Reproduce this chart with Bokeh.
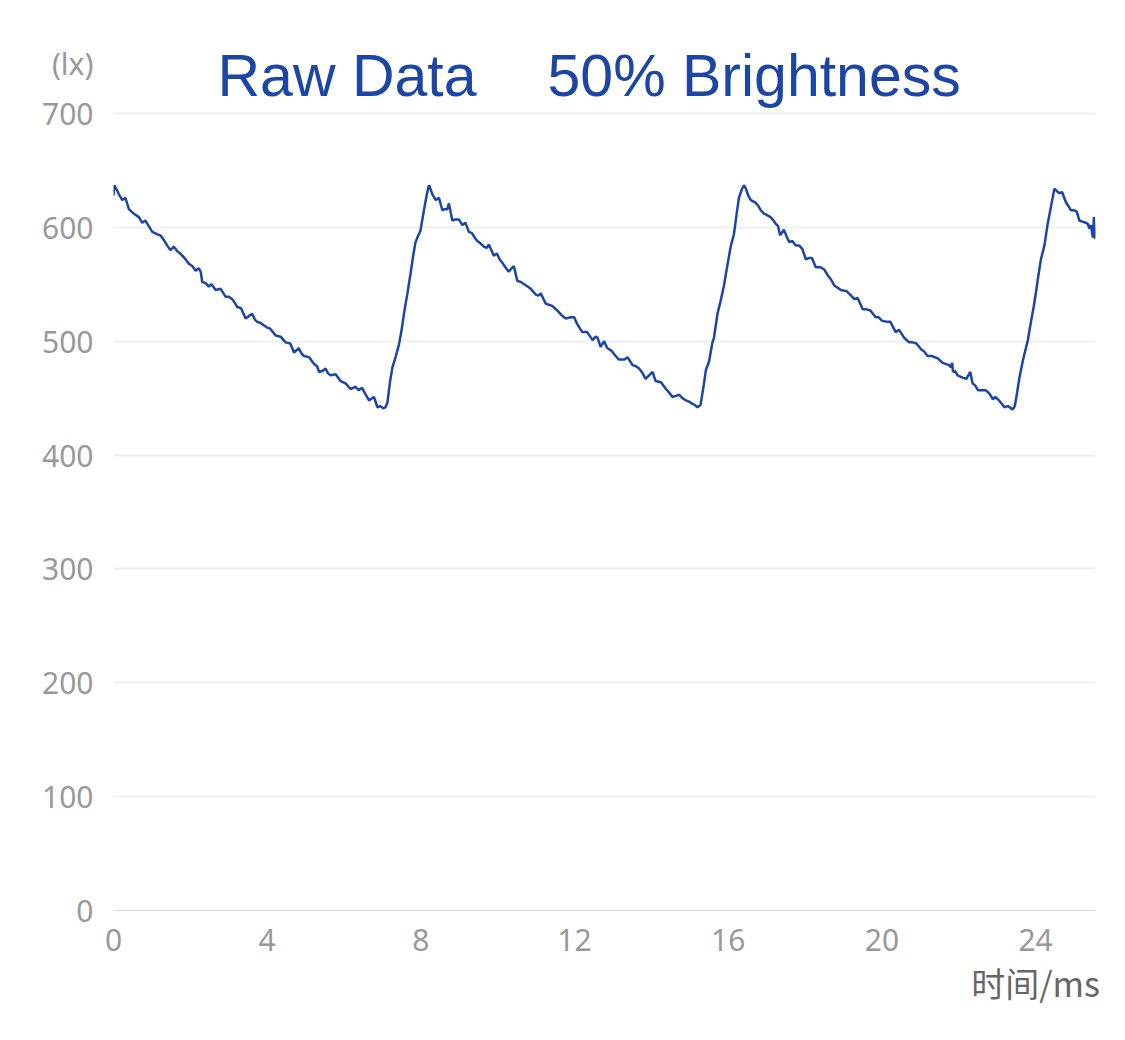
from bokeh.plotting import figure
from bokeh.models import Range1d, FixedTicker, Label, LinearAxis
from bokeh.embed import file_html
from bokeh.resources import INLINE

# ---- data (time in ms, illuminance in lx) ----
time_ms = [
    0.00, 0.02, 0.10, 0.14, 0.23, 0.31, 0.40, 0.53, 0.66, 0.75, 0.83, 1.01, 1.13, 1.22, 1.31, 1.40,
    1.48, 1.57, 1.66, 1.74, 1.85, 1.96, 2.05, 2.14, 2.22, 2.27, 2.31, 2.40, 2.48, 2.55, 2.66, 2.79,
    2.92, 3.00, 3.09, 3.17, 3.22, 3.32, 3.44, 3.52, 3.61, 3.68, 3.74, 3.83, 3.91, 4.00, 4.08, 4.15,
    4.22, 4.35, 4.48, 4.60, 4.70, 4.82, 4.90, 4.96, 5.09, 5.22, 5.30, 5.35, 5.45, 5.52, 5.58, 5.65,
    5.78, 5.91, 6.04, 6.17, 6.30, 6.38, 6.47, 6.55, 6.65, 6.73, 6.78, 6.87, 6.95, 7.02, 7.08, 7.13,
    7.20, 7.26, 7.35, 7.43, 7.50, 7.56, 7.65, 7.73, 7.80, 7.86, 7.92, 7.99, 8.08, 8.15, 8.21,
    8.26, 8.30, 8.39, 8.47, 8.56, 8.62, 8.69, 8.73, 8.82, 8.90, 8.99, 9.08, 9.16, 9.25, 9.33, 9.40,
    9.47, 9.55, 9.64, 9.72, 9.77, 9.90, 9.98, 10.05, 10.12, 10.20, 10.29, 10.36, 10.42, 10.51, 10.60,
    10.69, 10.78, 10.86, 10.99, 11.06, 11.12, 11.25, 11.33, 11.42, 11.55, 11.66, 11.77, 11.90, 11.99,
    12.07, 12.20, 12.33, 12.47, 12.55, 12.60, 12.68, 12.77, 12.85, 12.95, 13.07, 13.15, 13.30, 13.38,
    13.51, 13.60, 13.68, 13.77, 13.85, 13.94, 14.03, 14.11, 14.25, 14.38, 14.46, 14.55, 14.64, 14.72,
    14.81, 14.90, 14.98, 15.07, 15.13, 15.20, 15.28,
    15.37, 15.42, 15.50, 15.59, 15.63, 15.72, 15.80, 15.89, 15.98, 16.07, 16.15, 16.22, 16.28, 16.35, 16.41,
    16.46, 16.52, 16.59, 16.70, 16.78, 16.85, 16.93, 17.00, 17.10, 17.18, 17.24, 17.30, 17.35, 17.45,
    17.52, 17.59, 17.67, 17.76, 17.85, 17.93, 18.02, 18.10, 18.18, 18.28, 18.40, 18.50, 18.59, 18.68,
    18.76, 18.85, 18.93, 19.08, 19.20, 19.28, 19.37, 19.50, 19.60, 19.70, 19.84, 19.92, 20.00, 20.15,
    20.22, 20.36, 20.45, 20.58, 20.71, 20.80, 20.90, 21.02, 21.10, 21.19, 21.30, 21.45, 21.58, 21.75,
    21.80, 21.83, 21.85, 21.90, 21.97, 22.10, 22.20, 22.30, 22.36, 22.43, 22.50, 22.60, 22.70, 22.80,
    22.89, 22.95, 23.05, 23.12, 23.19, 23.28, 23.40, 23.46,
    23.52, 23.58, 23.67, 23.80, 23.88, 23.95, 24.01, 24.07, 24.14, 24.23, 24.31, 24.40, 24.49,
    24.55, 24.62, 24.69, 24.79, 24.85, 24.92, 25.00, 25.07, 25.14, 25.22, 25.31, 25.36, 25.40, 25.44,
    25.49, 25.52, 25.55,
]
illuminance_lx = [
    628, 637, 632, 629, 624, 626, 616, 612, 609, 604, 606, 596, 594, 593, 589, 584,
    580, 583, 579, 577, 573, 568, 566, 562, 564, 561, 552, 551, 548, 550, 545, 546,
    539, 539, 537, 533, 530, 529, 520, 522, 524, 519, 517, 516, 514, 512, 511, 508,
    505, 504, 499, 498, 490, 494, 489, 487, 486, 480, 478, 473, 474, 476, 472, 470,
    471, 465, 463, 458, 460, 457, 459, 454, 448, 450, 451, 442, 443, 441, 442, 446,
    465, 477, 487, 497, 510, 524, 542, 559, 575, 587, 592, 597, 615, 628, 637,
    633, 629, 624, 626, 615, 616, 616, 621, 606, 607, 607, 602, 604, 596, 595, 591,
    588, 586, 583, 582, 585, 575, 577, 572, 569, 565, 561, 564, 566, 553, 552,
    550, 548, 546, 541, 540, 542, 533, 532, 531, 527, 523, 520, 521, 521,
    515, 508, 508, 501, 504, 503, 495, 500, 494, 492, 487, 484, 484, 486,
    479, 478, 476, 472, 467, 470, 473, 465, 464, 458, 455, 451, 452, 453,
    450, 448, 447, 445, 444, 442, 444,
    463, 475, 482, 499, 503, 524, 535, 549, 567, 584, 594, 612, 626, 633, 637,
    634, 628, 624, 622, 619, 615, 612, 611, 609, 606, 603, 601, 593, 598,
    592, 587, 588, 584, 584, 581, 572, 573, 573, 565, 565, 563, 558, 554,
    549, 547, 545, 544, 540, 537, 538, 528, 528, 527, 521, 521, 518, 517,
    517, 508, 510, 503, 499, 499, 498, 493, 491, 487, 487, 485, 481, 479,
    477, 481, 473, 474, 470, 468, 467, 473, 463, 461, 457, 457, 457, 454,
    449, 451, 448, 445, 442, 443, 440, 443,
    455, 468, 483, 501, 517, 530, 543, 557, 572, 584, 602, 618, 634,
    632, 630, 631, 622, 619, 615, 615, 614, 606, 605, 604, 603, 599, 602,
    591, 609, 590,
]

x_ticks = [0, 4, 8, 12, 16, 20, 24]
y_ticks = [0, 100, 200, 300, 400, 500, 600, 700]
title_left = "Raw Data"
title_right = "50% Brightness"
y_unit = "(lx)"
x_unit = "时间/ms"

BLUE = "#1c46a6"

# ---- canvas geometry (pixels) ----
W, H = 1117, 1032
LEFT, RIGHT, TOP, BOTTOM = 113, 22, 50, 122
X_END = 25.56
Y0_PX, Y700_PX = 910, 113          # where 0 and 700 lx sit on the canvas
PX_PER_LX = (Y0_PX - Y700_PX) / 700.0
Y_END = (H - TOP - BOTTOM) / PX_PER_LX
PX_PER_MS = (W - LEFT - RIGHT) / X_END


def dx(px):   # canvas x pixel -> data x
    return (px - LEFT) / PX_PER_MS


def dy(py):   # canvas y pixel -> data y
    return (Y0_PX - py) / PX_PER_LX


p = figure(width=W, height=H, output_backend="svg", toolbar_location=None,
           x_range=Range1d(0, X_END), y_range=Range1d(0, Y_END),
           min_border_left=LEFT, min_border_right=RIGHT,
           min_border_top=TOP, min_border_bottom=BOTTOM)
p.outline_line_color = None
p.background_fill_color = "white"
p.border_fill_color = "white"

p.line(time_ms, illuminance_lx, line_color=BLUE, line_width=2.5)

# main axes; the y axis also carries its unit "(lx)" above the top value
lx_tick = int(round(dy(63)))
xa = p.xaxis[0]
ya = p.yaxis[0]
xa.ticker = FixedTicker(ticks=x_ticks)
ya.ticker = FixedTicker(ticks=y_ticks + [lx_tick])
ya.major_label_overrides = {lx_tick: y_unit}
for ax in (xa, ya):
    ax.major_tick_line_color = None
    ax.minor_tick_line_color = None
    ax.major_label_text_color = "#999999"
    ax.major_label_text_font = "Noto Sans"
    ax.major_label_text_font_size = "30px"
ya.axis_line_color = None
ya.major_label_standoff = 14
xa.axis_line_color = "#dcdcdc"
xa.axis_line_width = 1
xa.major_label_standoff = 12

p.xgrid.grid_line_color = None
p.ygrid.ticker = FixedTicker(ticks=y_ticks)
p.ygrid.grid_line_color = "#f0f0f0"
p.ygrid.grid_line_width = 2

# unit of the x axis, under the tick labels
unit_bottom = LinearAxis(ticker=FixedTicker(ticks=[24]),
                         major_label_overrides={24: x_unit},
                         axis_line_color=None, major_tick_line_color=None,
                         minor_tick_line_color=None, major_tick_out=0, major_tick_in=0,
                         major_label_standoff=4, major_label_text_color="#666666",
                         major_label_text_font="Noto Sans CJK SC",
                         major_label_text_font_size="34px")
p.add_layout(unit_bottom, "below")

# title inside the (extended) frame
p.add_layout(Label(x=dx(217), y=dy(75), text=title_left, text_color=BLUE,
                   text_font="Liberation Sans", text_font_size="59px",
                   text_baseline="alphabetic", text_align="left"))
p.add_layout(Label(x=dx(547), y=dy(75), text=title_right, text_color=BLUE,
                   text_font="Liberation Sans", text_font_size="59px",
                   text_baseline="alphabetic", text_align="left"))

open("out.html", "w").write(file_html(p, INLINE))
